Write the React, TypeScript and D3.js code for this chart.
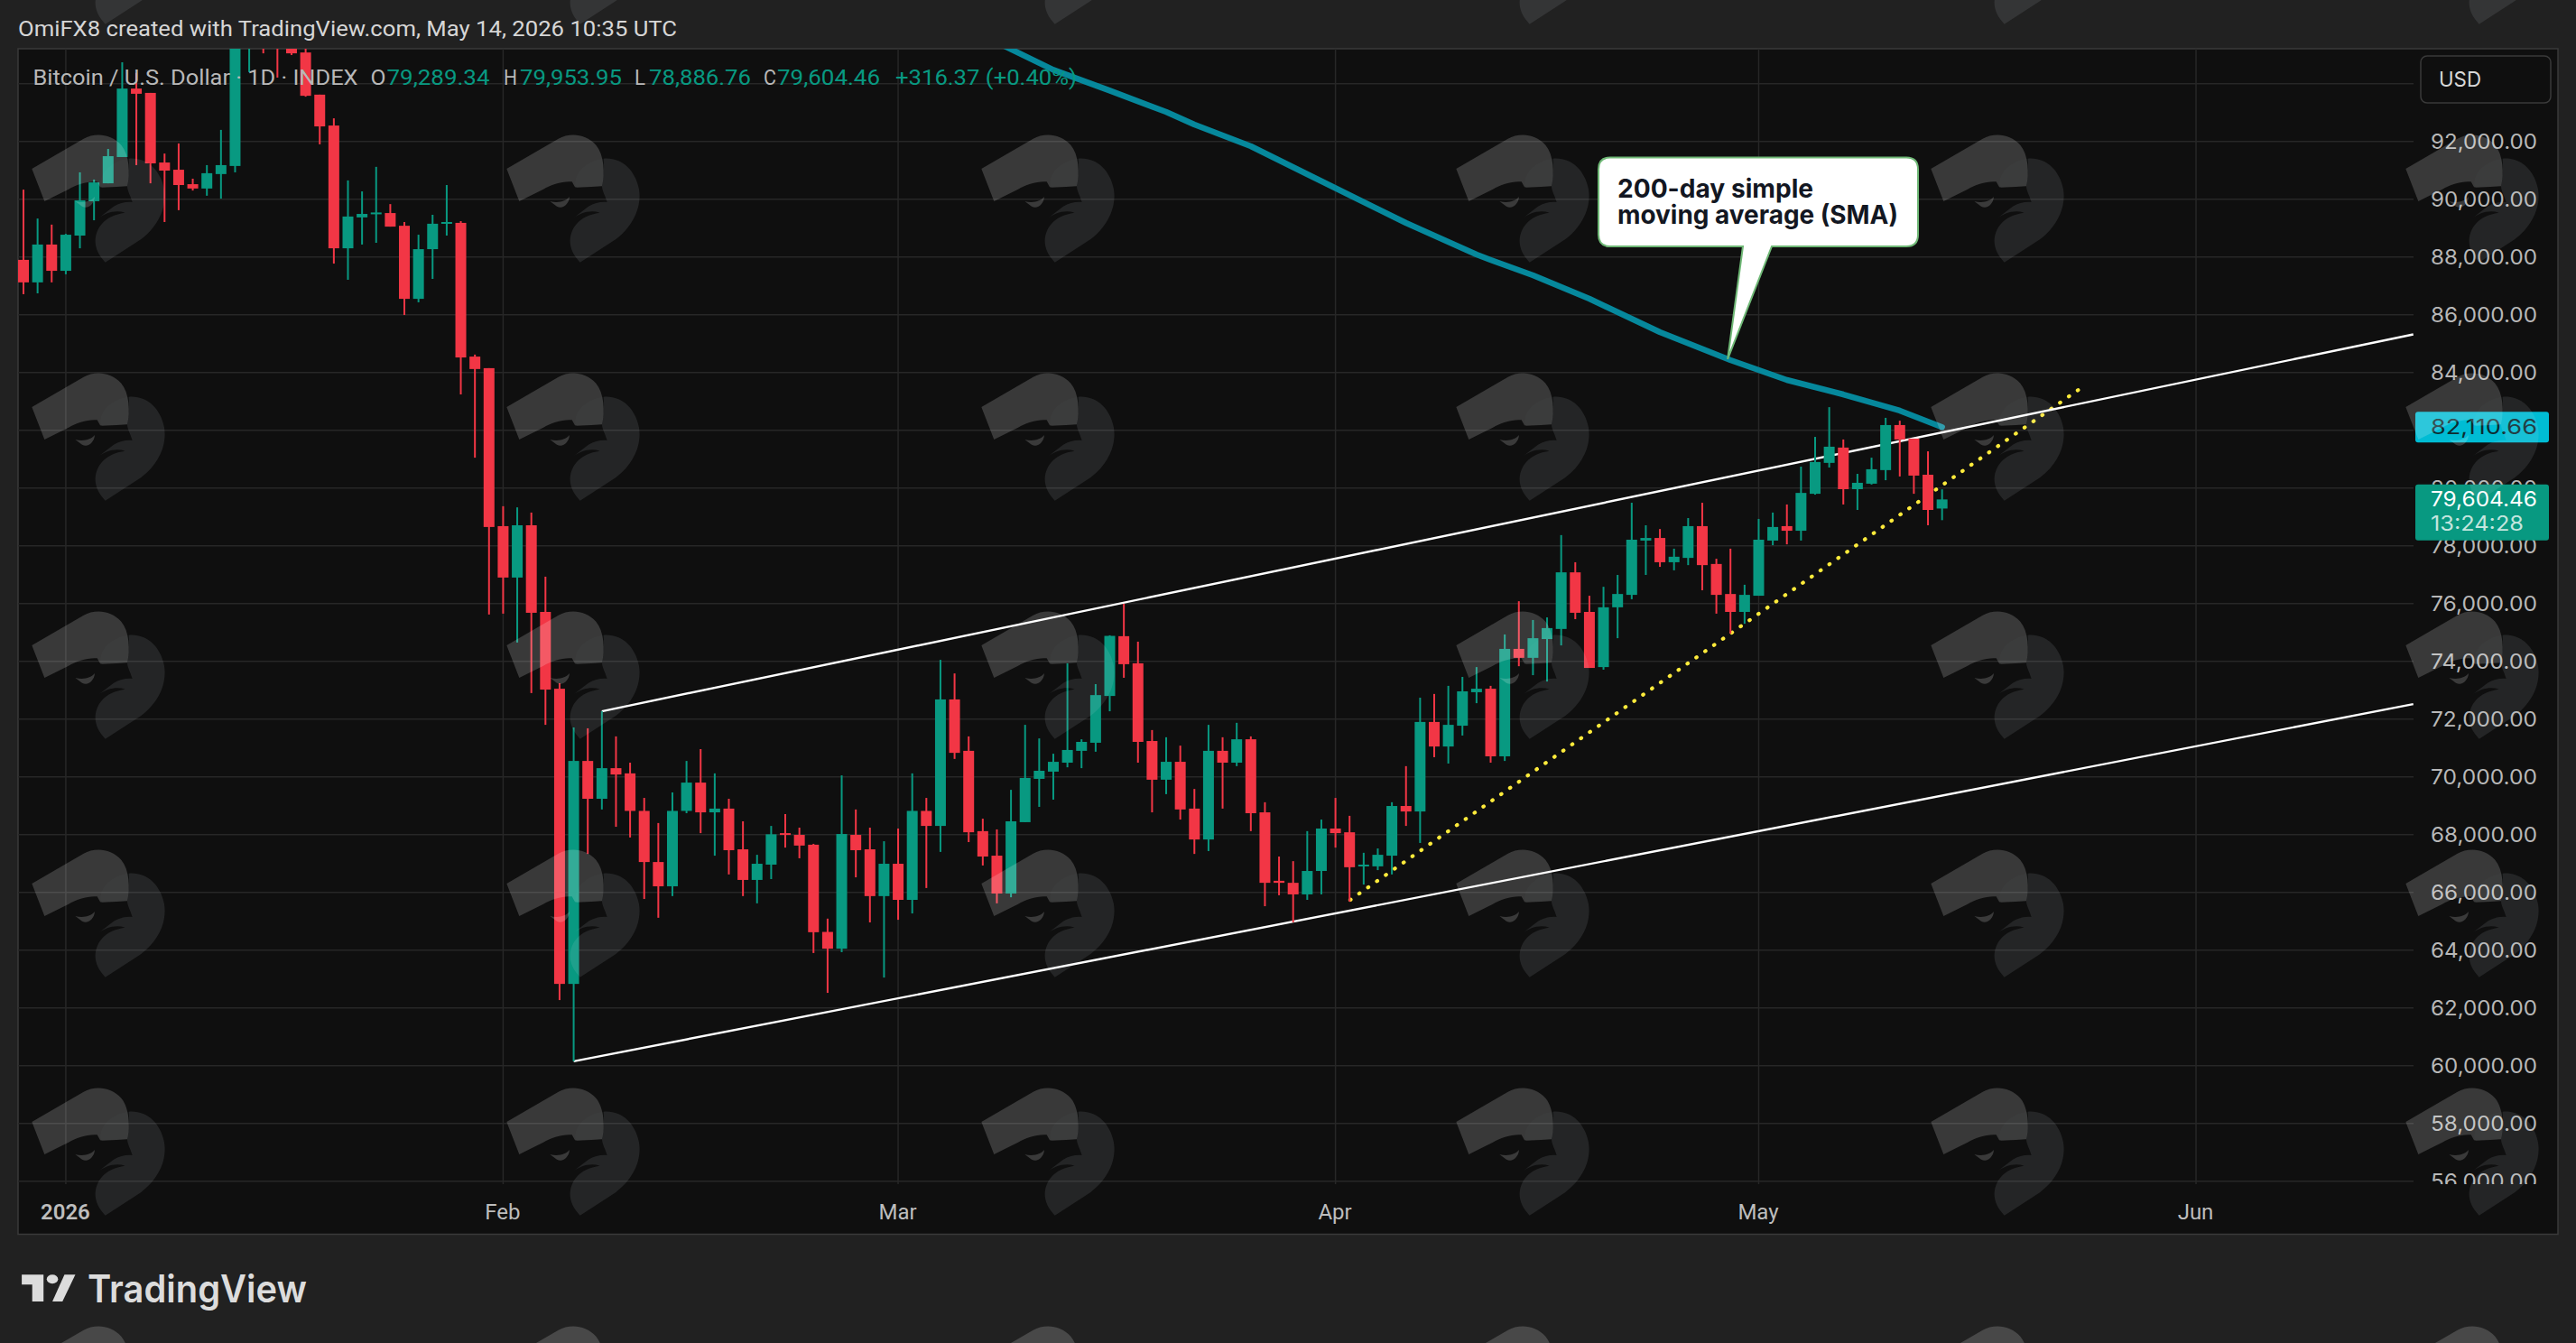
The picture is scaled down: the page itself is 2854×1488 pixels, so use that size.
import React, { useEffect, useRef } from 'react';
import * as d3 from 'd3';

const WIDTH = 2854;
const HEIGHT = 1488;

// day 0 is Jan 1 2026, the first candle is Dec 29
const firstDay = -3;

const opens = [
  87900, 87120, 88430, 87520, 88740, 89930, 90550, 91460, 93830, 93680,
  91270, 91020, 90520, 90370, 90870, 91150, 95400, 96900, 95600, 95500,
  95080, 93620, 92550, 88300, 89370, 89490, 89520, 89080, 86550, 88270,
  89150, 89180, 84550, 84150, 78680, 76900, 78710, 75710, 73050, 62830,
  70550, 69240, 70300, 70120, 68820, 67050, 66210, 68820, 69800, 68770,
  68900, 67490, 66430, 66960, 68050, 67990, 67650, 64630, 64050, 67990,
  67490, 65870, 66990, 65740, 68820, 68300, 72680, 70900, 68120, 67270,
  65960, 68430, 69930, 70180, 70490, 70900, 71180, 72800, 74870, 73930,
  71240, 69900, 70520, 68900, 67830, 70900, 70490, 71300, 68770, 66400,
  66330, 65930, 66740, 68210, 68080, 66900, 66900, 67270, 68990, 68800,
  71900, 71050, 71770, 72930, 73050, 70710, 74430, 74120, 74770, 75120,
  77080, 75710, 73800, 75870, 76300, 78180, 78270, 77430, 77580, 78680,
  77370, 76330, 75710, 76270, 78180, 78680, 78520, 79800, 80870, 81400,
  79960, 80150, 80620, 82180, 81710, 80460, 79289.34,
];

const highs = [
  90330, 89330, 89120, 88800, 90930, 90680, 91740, 94740, 94370, 93680,
  91580, 91930, 90710, 91180, 92400, 96450, 97500, 97800, 96200, 95650,
  95210, 93620, 92800, 90650, 90270, 91120, 89830, 89210, 88770, 89460,
  90490, 89240, 84620, 84150, 79370, 79330, 79150, 76930, 73240, 71710,
  71680, 72270, 71400, 70490, 69270, 68400, 69460, 70550, 70960, 70120,
  69240, 68460, 67300, 68300, 68710, 68240, 67680, 65090, 70050, 68870,
  68240, 67770, 68210, 70120, 69270, 74050, 73580, 71400, 68550, 68180,
  69550, 71800, 71330, 70800, 73930, 71300, 73210, 74900, 75990, 74680,
  71620, 71370, 71080, 69580, 71800, 71370, 71870, 71400, 69120, 67240,
  67080, 68120, 68520, 69270, 68650, 67370, 67520, 69120, 70370, 72740,
  72870, 73150, 73460, 73800, 73150, 74930, 76080, 75430, 75520, 78370,
  77430, 76270, 76580, 76990, 79490, 78710, 78580, 77900, 78960, 79490,
  77550, 77900, 76650, 78930, 79150, 79430, 80740, 81770, 82800, 81680,
  80490, 81050, 82430, 82330, 81710, 81270, 79953.95,
];

const lows = [
  86710, 86740, 87120, 87400, 88300, 89270, 90550, 91460, 91180, 90550,
  89210, 89620, 90300, 90120, 90020, 90930, 94400, 95050, 94210, 94990,
  93550, 91900, 87770, 87210, 88430, 88490, 89050, 85990, 86430, 87240,
  88740, 83240, 81050, 75620, 75650, 74650, 72900, 71800, 62270, 60150,
  67330, 68870, 68270, 67900, 65770, 65120, 65870, 68740, 68050, 67270,
  66620, 65870, 65620, 66460, 67550, 67180, 63900, 62520, 63930, 66520,
  64960, 63050, 65050, 65270, 66150, 67400, 70620, 67740, 66930, 65620,
  65830, 68430, 68960, 69210, 70330, 70300, 70870, 72270, 73430, 70490,
  68770, 69400, 68520, 67330, 67430, 68900, 70370, 68120, 65520, 65900,
  64960, 65740, 65930, 67550, 65680, 66270, 66770, 66620, 68300, 67710,
  70680, 70460, 71430, 72550, 70490, 70550, 73830, 73520, 73300, 74550,
  75460, 73770, 73710, 74800, 76150, 76990, 77270, 77150, 77330, 76460,
  75650, 74960, 75300, 76270, 78020, 78050, 78180, 79770, 80710, 79430,
  79240, 80120, 80270, 80400, 79800, 78710, 78886.76,
];

const closes = [
  87120, 88430, 87520, 88770, 89960, 90580, 91490, 93830, 93650, 91240,
  90990, 90490, 90370, 90900, 91180, 95400, 96900, 95600, 95500, 95050,
  93580, 92520, 88300, 89400, 89490, 89540, 89050, 86550, 88270, 89150,
  89210, 84520, 84120, 78650, 76900, 78710, 75680, 73020, 62830, 70550,
  69240, 70300, 70080, 68820, 67050, 66210, 68820, 69800, 68770, 68900,
  67460, 66430, 66990, 68010, 68010, 67620, 64620, 64050, 68020, 67460,
  65870, 66990, 65740, 68820, 68300, 72680, 70830, 68080, 67240, 65960,
  68460, 69960, 70210, 70520, 70930, 71210, 72830, 74880, 73900, 71210,
  69900, 70520, 68870, 67830, 70900, 70490, 71300, 68740, 66330, 66330,
  65930, 66740, 68210, 68050, 66870, 66960, 67300, 68990, 68800, 71900,
  71050, 71800, 72960, 73050, 70710, 74430, 74120, 74800, 75150, 77080,
  75680, 73770, 75870, 76330, 78210, 78270, 77430, 77620, 78680, 77330,
  76300, 75710, 76300, 78210, 78650, 78520, 79830, 80900, 81430, 79960,
  80180, 80650, 82180, 81680, 80430, 79240, 79604.46,
];

// 200-day SMA, only the part that is visible
const smaDays = [66, 70, 74, 78, 80, 84, 88, 95, 100, 101, 104, 108, 113, 118, 122, 126, 130, 133];
const smaValues = [
  95430, 94480, 93760, 93020, 92584, 91835, 90866, 89178, 88085, 87897, 87366, 86553, 85397,
  84428, 83740, 83240, 82680, 82110.66,
];

// drawn trend lines
const upperChannelDays = [38, 166.4];
const upperChannelPrices = [72270, 85320];
const lowerChannelDays = [36, 166.4];
const lowerChannelPrices = [60150, 72520];
const supportDays = [91.05, 142.75];
const supportPrices = [65740, 83430];

const gridPrices = d3.range(56000, 96000, 2000);
// 94,000 sits behind the USD button and 82,000 behind the SMA tag
const priceTicks = gridPrices.filter(p => p !== 94000 && p !== 82000);
const monthDays = [0, 31, 59, 90, 120, 151];
const monthLabels = ['2026', 'Feb', 'Mar', 'Apr', 'May', 'Jun'];

const changeText = '+316.37 (+0.40%)';
const countdownText = '13:24:28';
const calloutLines = ['200-day simple', 'moving average (SMA)'];
const calloutTipDay = 117.8;
const calloutTipPrice = 84460;

const GREEN = '#089981';
const RED = '#f23645';
const FONT = 'Inter, Roboto, sans-serif';
const LABEL_FONT = 'Roboto, Inter, sans-serif';

// logo tile, drawn in 3x coordinates of a 170x170 cell
const BAND_PATH =
  'M28,147 L200,47 C235,27 290,28 325,68 C352,100 355,160 345,205 L310,207 L262,209 L255,208 L245,190 C215,187 175,200 150,215 L70,255 Z';
const LOBE_PATH =
  'M350,113 C410,108 455,150 468,215 C478,280 445,340 390,382 L272,458 C240,425 228,385 250,345 C262,325 285,300 338,293 C305,282 270,295 248,312 L300,272 C320,260 345,255 362,258 C355,235 345,220 345,205 C352,160 352,135 350,113 Z';
const OVERLAP_PATH = 'M350,113 C295,118 245,165 258,208 L345,205 C352,160 352,135 350,113 Z';
const EYE_PATH = 'M172,255 C200,262 225,255 237,240 C235,265 215,282 195,272 Z';

export default function App() {
  const svgRef = useRef<SVGSVGElement>(null);

  useEffect(() => {
    if (!svgRef.current) return;
    const svg = d3.select(svgRef.current);
    svg.selectAll('*').remove();

    const plot = { left: 20, top: 54, right: 2834, bottom: 1367.5, gridRight: 2674, gridBottom: 1312 };

    const x = d3.scaleLinear().domain([0, 151]).range([72.9, 2433]);
    const y = d3.scaleLinear().domain([92000, 56000]).range([156.7, 1308.7]);
    const fmt = d3.format(',.2f');

    const addText = (
      parent: any,
      str: string,
      px: number,
      py: number,
      size: number,
      fill: string,
      len?: number,
      family: string = LABEL_FONT,
      weight: number = 400
    ) => {
      const t = parent
        .append('text')
        .attr('x', px)
        .attr('y', py)
        .attr('font-family', family)
        .attr('font-size', size)
        .attr('font-weight', weight)
        .attr('fill', fill)
        .text(str);
      if (len) t.attr('textLength', len).attr('lengthAdjust', 'spacingAndGlyphs');
      return t;
    };

    // Background
    svg.append('rect').attr('width', WIDTH).attr('height', HEIGHT).attr('fill', '#212121');
    svg
      .append('rect')
      .attr('x', plot.left)
      .attr('y', plot.top)
      .attr('width', plot.right - plot.left)
      .attr('height', plot.bottom - plot.top)
      .attr('fill', '#0f0f0f')
      .attr('stroke', '#3a3a3a')
      .attr('stroke-width', 1.5);

    const defs = svg.append('defs');
    defs
      .append('clipPath')
      .attr('id', 'pane')
      .append('rect')
      .attr('x', plot.left)
      .attr('y', plot.top)
      .attr('width', plot.gridRight - plot.left)
      .attr('height', plot.gridBottom - plot.top);
    defs
      .append('clipPath')
      .attr('id', 'price-axis')
      .append('rect')
      .attr('x', plot.gridRight)
      .attr('y', plot.top)
      .attr('width', plot.right - plot.gridRight)
      .attr('height', plot.gridBottom - plot.top);

    const pane = svg.append('g').attr('clip-path', 'url(#pane)');

    // Grid lines
    pane
      .append('g')
      .selectAll('line')
      .data(gridPrices)
      .join('line')
      .attr('x1', plot.left)
      .attr('x2', plot.gridRight)
      .attr('y1', d => y(d))
      .attr('y2', d => y(d))
      .attr('stroke', '#272727')
      .attr('stroke-width', 1.5);

    pane
      .append('g')
      .selectAll('line')
      .data(monthDays)
      .join('line')
      .attr('x1', d => x(d))
      .attr('x2', d => x(d))
      .attr('y1', plot.top)
      .attr('y2', plot.gridBottom)
      .attr('stroke', '#272727')
      .attr('stroke-width', 1.5);

    // Trend lines
    const lineOf = (days: number[], values: number[]) =>
      d3
        .line<number>()
        .x(d => x(d))
        .y((_, i) => y(values[i]))(days);

    pane
      .append('path')
      .attr('d', lineOf(supportDays, supportPrices))
      .attr('fill', 'none')
      .attr('stroke', '#ffeb3b')
      .attr('stroke-width', 4.2)
      .attr('stroke-linecap', 'round')
      .attr('stroke-dasharray', '0.6 11.4');

    [
      { days: upperChannelDays, prices: upperChannelPrices },
      { days: lowerChannelDays, prices: lowerChannelPrices },
    ].forEach(c => {
      pane
        .append('path')
        .attr('d', lineOf(c.days, c.prices))
        .attr('fill', 'none')
        .attr('stroke', '#ffffff')
        .attr('stroke-width', 2.4);
    });

    // Candles
    const candleData = opens.map((o, i) => ({
      day: firstDay + i,
      open: o,
      high: highs[i],
      low: lows[i],
      close: closes[i],
    }));
    const bodyWidth = 12;

    const candles = pane
      .append('g')
      .selectAll('g')
      .data(candleData)
      .join('g')
      .attr('fill', d => (d.close >= d.open ? GREEN : RED));

    candles
      .append('rect')
      .attr('x', d => x(d.day) - 1)
      .attr('width', 2)
      .attr('y', d => y(d.high))
      .attr('height', d => y(d.low) - y(d.high));

    candles
      .append('rect')
      .attr('x', d => x(d.day) - bodyWidth / 2)
      .attr('width', bodyWidth)
      .attr('y', d => y(Math.max(d.open, d.close)))
      .attr('height', d => Math.max(2, Math.abs(y(d.open) - y(d.close))));

    // 200-day SMA
    pane
      .append('path')
      .attr('d', lineOf(smaDays, smaValues))
      .attr('fill', 'none')
      .attr('stroke', '#06889c')
      .attr('stroke-width', 6.5)
      .attr('stroke-linecap', 'round')
      .attr('stroke-linejoin', 'round');

    // Price axis
    const priceAxis = svg
      .append('g')
      .attr('clip-path', 'url(#price-axis)')
      .call(
        d3
          .axisRight(y)
          .tickValues(priceTicks)
          .tickSize(0)
          .tickFormat(d => fmt(d as number))
      );
    priceAxis.select('.domain').remove();
    priceAxis
      .selectAll('text')
      .attr('x', 2693)
      .attr('y', 8)
      .attr('dy', 0)
      .attr('font-family', FONT)
      .attr('font-size', 23)
      .attr('fill', '#b8b8b8')
      .attr('textLength', 118)
      .attr('lengthAdjust', 'spacingAndGlyphs');

    // Time axis
    const timeAxis = svg
      .append('g')
      .call(
        d3
          .axisBottom(x)
          .tickValues(monthDays)
          .tickSize(0)
          .tickFormat((_, i) => monthLabels[i])
      );
    timeAxis.select('.domain').remove();
    timeAxis
      .selectAll('text')
      .attr('x', -1)
      .attr('y', 1351)
      .attr('dy', 0)
      .attr('font-family', LABEL_FONT)
      .attr('font-size', 24)
      .attr('font-weight', (_, i) => (i === 0 ? 600 : 400))
      .attr('fill', '#bdbdbd');

    // Currency button
    svg
      .append('rect')
      .attr('x', 2682)
      .attr('y', 62)
      .attr('width', 144)
      .attr('height', 52)
      .attr('rx', 7)
      .attr('fill', '#0f0f0f')
      .attr('stroke', '#3a3a3a')
      .attr('stroke-width', 1.5);
    addText(svg, 'USD', 2702, 96, 23, '#d8d8d8', 47, FONT);

    // Price tags
    const lastSma = smaValues[smaValues.length - 1];
    const lastClose = closes[closes.length - 1];
    svg
      .append('rect')
      .attr('x', 2676)
      .attr('y', y(lastSma) - 17)
      .attr('width', 148)
      .attr('height', 34)
      .attr('rx', 3)
      .attr('fill', '#00bcd4');
    addText(svg, fmt(lastSma), 2693, y(lastSma) + 7.5, 23, '#0d2b30', 118, FONT);

    svg
      .append('rect')
      .attr('x', 2676)
      .attr('y', y(lastClose) - 16.5)
      .attr('width', 148)
      .attr('height', 62)
      .attr('rx', 3)
      .attr('fill', GREEN);
    addText(svg, fmt(lastClose), 2693, y(lastClose) + 7.5, 23, '#ffffff', 118, FONT);
    addText(svg, countdownText, 2693, y(lastClose) + 35, 23, '#c4e6df', 103, FONT);

    // Callout
    const tipX = x(calloutTipDay);
    const tipY = y(calloutTipPrice);
    const box = { x0: 1771, y0: 174.5, x1: 2125, y1: 273, r: 13, tail0: 1931, tail1: 1963 };
    const bubble = d3.path();
    bubble.moveTo(box.x0 + box.r, box.y0);
    bubble.lineTo(box.x1 - box.r, box.y0);
    bubble.quadraticCurveTo(box.x1, box.y0, box.x1, box.y0 + box.r);
    bubble.lineTo(box.x1, box.y1 - box.r);
    bubble.quadraticCurveTo(box.x1, box.y1, box.x1 - box.r, box.y1);
    bubble.lineTo(box.tail1, box.y1);
    bubble.lineTo(tipX, tipY);
    bubble.lineTo(box.tail0, box.y1);
    bubble.lineTo(box.x0 + box.r, box.y1);
    bubble.quadraticCurveTo(box.x0, box.y1, box.x0, box.y1 - box.r);
    bubble.lineTo(box.x0, box.y0 + box.r);
    bubble.quadraticCurveTo(box.x0, box.y0, box.x0 + box.r, box.y0);
    bubble.closePath();
    svg
      .append('path')
      .attr('d', bubble.toString())
      .attr('fill', '#ffffff')
      .attr('stroke', '#6fb876')
      .attr('stroke-width', 2);
    addText(svg, calloutLines[0], 1792, 219, 28.5, '#131722', 217, FONT, 700);
    addText(svg, calloutLines[1], 1792, 248, 28.5, '#131722', 311, FONT, 700);

    // Header and legend
    addText(
      svg,
      'OmiFX8 created with TradingView.com, May 14, 2026 10:35 UTC',
      20,
      40,
      23,
      '#d6d6d6',
      730
    );

    const legend = svg.append('g');
    const last = opens.length - 1;
    addText(legend, 'Bitcoin / U.S. Dollar · 1D · INDEX', 36.5, 94, 23, '#b8b8b8', 360);
    addText(legend, 'O', 410.5, 94, 23, '#b8b8b8', 17);
    addText(legend, fmt(opens[last]), 428.5, 94, 23, GREEN, 114);
    addText(legend, 'H', 558, 94, 23, '#b8b8b8', 15);
    addText(legend, fmt(highs[last]), 576, 94, 23, GREEN, 113);
    addText(legend, 'L', 703, 94, 23, '#b8b8b8', 12);
    addText(legend, fmt(lows[last]), 719, 94, 23, GREEN, 113);
    addText(legend, 'C', 846, 94, 23, '#b8b8b8', 14);
    addText(legend, fmt(lastClose), 861, 94, 23, GREEN, 114);
    addText(legend, changeText, 992, 94, 23, GREEN, 201);

    // TradingView mark, in 2.24x/3x crop coordinates of the footer
    const mark = svg
      .append('g')
      .attr('transform', 'translate(0,1150) scale(0.4464,0.3333)')
      .attr('fill', '#dcdcdc');
    mark.append('path').attr('d', 'M54,787 H108 V876 H80 V820 H54 Z');
    mark.append('ellipse').attr('cx', 130).attr('cy', 802).attr('rx', 14).attr('ry', 15);
    mark.append('path').attr('d', 'M187,787 L155,876 H130 L160,787 Z');
    addText(svg, 'TradingView', 97, 1443, 42, '#dcdcdc', 243, FONT, 600);

    // Watermark tiles, over everything
    const colStarts = d3.range(26, WIDTH, 526);
    const rowStarts = d3.range(-126, HEIGHT, 264);
    const tiles = svg.append('g').attr('pointer-events', 'none');
    rowStarts.forEach(ry => {
      colStarts.forEach(cx => {
        const tile = tiles.append('g').attr('transform', `translate(${cx},${ry}) scale(0.3333)`);
        tile.append('path').attr('d', LOBE_PATH).attr('fill', '#dce6f0').attr('fill-opacity', 0.105);
        tile.append('path').attr('d', BAND_PATH).attr('fill', '#ffffff').attr('fill-opacity', 0.175);
        tile.append('path').attr('d', OVERLAP_PATH).attr('fill', '#dce6f0').attr('fill-opacity', 0.02);
        tile.append('path').attr('d', EYE_PATH).attr('fill', '#ffffff').attr('fill-opacity', 0.18);
      });
    });
  }, []);

  return (
    <svg
      ref={svgRef}
      width={WIDTH}
      height={HEIGHT}
      style={{ position: 'absolute', left: 0, top: 0, display: 'block' }}
    />
  );
}
